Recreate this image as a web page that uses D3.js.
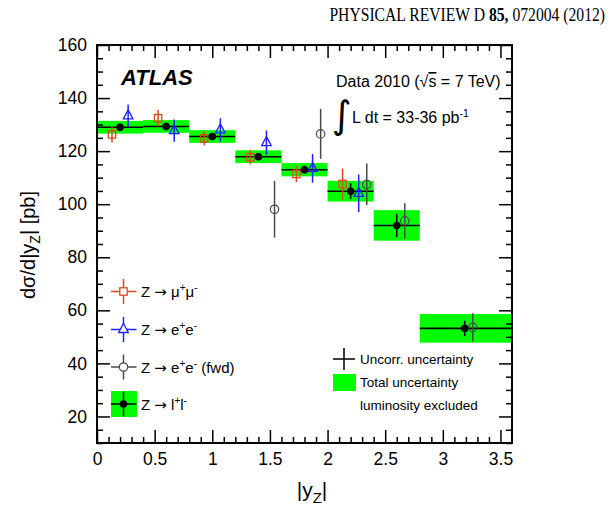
<!DOCTYPE html>
<html><head><meta charset="utf-8">
<script src="https://cdn.jsdelivr.net/npm/d3@7/dist/d3.min.js"></script>
<style>
body{margin:0;background:#fff;}
svg{display:block;}
text{font-family:"Liberation Sans",Arial,Helvetica,sans-serif;fill:#000;}
</style></head><body>
<svg id="c" width="613" height="512"></svg>
<script>
// ---- data ----
const binLow  = [0, 0.4, 0.8, 1.2, 1.6, 2.0, 2.4, 2.8];
const binHigh = [0.4, 0.8, 1.2, 1.6, 2.0, 2.4, 2.8, 3.6];
const combX   = [0.2, 0.6, 1.0, 1.4, 1.8, 2.2, 2.6, 3.19];
const combVal = [129.0, 129.3, 125.5, 117.9, 113.0, 104.9, 92.0, 53.2];
const combTot = [2.4, 2.4, 2.4, 2.4, 2.5, 3.9, 5.75, 5.4];
const combUnc = [1.4, 1.4, 1.3, 1.3, 1.5, 3.0, 4.4, 2.9];

const muX   = [0.13, 0.53, 0.93, 1.33, 1.73, 2.13];
const muVal = [126.3, 132.4, 124.8, 117.7, 111.4, 107.6];
const muErr = [3.0, 3.1, 2.7, 2.7, 3.1, 5.8];

const eX   = [0.27, 0.67, 1.07, 1.47, 1.87, 2.27];
const eVal = [133.3, 127.7, 128.0, 123.2, 113.5, 104.1];
const eErr = [4.3, 4.2, 4.4, 4.6, 5.4, 7.1];

const fX   = [1.54, 1.94, 2.34, 2.67, 3.26];
const fVal = [98.1, 126.5, 107.5, 93.7, 53.6];
const fErr = [10.7, 9.4, 7.8, 6.7, 5.3];

const xMajor = [0, 0.5, 1, 1.5, 2, 2.5, 3, 3.5];
const xTickLabels = ["0", "0.5", "1", "1.5", "2", "2.5", "3", "3.5"];
const yMajor = [20, 40, 60, 80, 100, 120, 140, 160];
const yTickLabels = ["20", "40", "60", "80", "100", "120", "140", "160"];

// ---- setup ----
const svg = d3.select("#c");
const L = 97, R = 512, T = 45, B = 443;
const x = d3.scaleLinear().domain([0, 3.6]).range([L, R]);
const y = d3.scaleLinear().domain([10, 160]).range([B, T]);

const GREEN = "#00ff00", MU = "#dd4a1a", EL = "#1f1fff", FW = "#4a4a4a";

// title
svg.append("text").attr("transform", "translate(605,21) scale(0.87,1)").attr("text-anchor", "end")
  .style("font-family", "'Liberation Serif','Times New Roman',serif").style("font-size", "18px")
  .html('PHYSICAL REVIEW D <tspan font-weight="bold">85,</tspan> 072004 (2012)');

const plot = svg.append("g");

// green bands
plot.selectAll("rect.band").data(binLow).join("rect").attr("class", "band")
  .attr("x", (d, i) => x(binLow[i]))
  .attr("width", (d, i) => Math.min(x(binHigh[i]), R) - x(binLow[i]))
  .attr("y", (d, i) => y(combVal[i] + combTot[i]))
  .attr("height", (d, i) => y(combVal[i] - combTot[i]) - y(combVal[i] + combTot[i]))
  .attr("fill", GREEN);

// horizontal bin lines
plot.selectAll("line.hb").data(binLow).join("line")
  .attr("x1", (d, i) => x(binLow[i])).attr("x2", (d, i) => Math.min(x(binHigh[i]), R))
  .attr("y1", (d, i) => y(combVal[i])).attr("y2", (d, i) => y(combVal[i]))
  .attr("stroke", "#000").attr("stroke-width", 1.6);

// forward electrons
fX.forEach((xv, i) => {
  plot.append("line").attr("x1", x(xv)).attr("x2", x(xv))
    .attr("y1", y(fVal[i] + fErr[i])).attr("y2", y(fVal[i] - fErr[i]))
    .attr("stroke", FW).attr("stroke-width", 1.5);
  plot.append("circle").attr("cx", x(xv)).attr("cy", y(fVal[i])).attr("r", 4.2)
    .attr("fill", "#fff").attr("fill-opacity", 0).attr("stroke", FW).attr("stroke-width", 1.2);
});

// muons
muX.forEach((xv, i) => {
  const cx = x(xv), cy = y(muVal[i]);
  plot.append("line").attr("x1", cx).attr("x2", cx)
    .attr("y1", y(muVal[i] + muErr[i])).attr("y2", y(muVal[i] - muErr[i]))
    .attr("stroke", MU).attr("stroke-width", 1.5);
  plot.append("rect").attr("x", cx - 3.7).attr("y", cy - 3.7).attr("width", 7.4).attr("height", 7.4)
    .attr("fill", "none").attr("stroke", MU).attr("stroke-width", 1.3);
});

// electrons
eX.forEach((xv, i) => {
  const cx = x(xv), cy = y(eVal[i]);
  plot.append("line").attr("x1", cx).attr("x2", cx)
    .attr("y1", y(eVal[i] + eErr[i])).attr("y2", y(eVal[i] - eErr[i]))
    .attr("stroke", EL).attr("stroke-width", 1.5);
  plot.append("path").attr("d", `M${cx},${cy - 6} L${cx + 4.8},${cy + 3} L${cx - 4.8},${cy + 3} Z`)
    .attr("fill", "none").attr("stroke", EL).attr("stroke-width", 1.3);
});

// combined points
combX.forEach((xv, i) => {
  const cx = x(xv), cy = y(combVal[i]);
  plot.append("line").attr("x1", cx).attr("x2", cx)
    .attr("y1", y(combVal[i] + combUnc[i])).attr("y2", y(combVal[i] - combUnc[i]))
    .attr("stroke", "#000").attr("stroke-width", 1.6);
  plot.append("circle").attr("cx", cx).attr("cy", cy).attr("r", 3.8).attr("fill", "#000");
});

// ---- axes ----
const xMinor = d3.range(0, 36).map(d => d / 10).filter(d => Math.abs(d * 2 - Math.round(d * 2)) > 1e-6);
const yMinor = d3.range(10, 161, 5).filter(d => d % 20 !== 0);

function axisG(axis, tx, ty) {
  const g = svg.append("g").attr("transform", `translate(${tx},${ty})`).call(axis);
  g.select(".domain").remove();
  g.selectAll("line").attr("stroke", "#000").attr("stroke-width", 1.5);
  g.selectAll("text").style("font-family", "'Liberation Sans',Arial,sans-serif").style("font-size", "17.5px").attr("fill", "#000");
  return g;
}
// bottom
axisG(d3.axisBottom(x).tickValues(xMajor).tickFormat((d, i) => xTickLabels[i]).tickSize(-13).tickPadding(10), 0, B);
axisG(d3.axisBottom(x).tickValues(xMinor).tickFormat("").tickSize(-6), 0, B);
// top
axisG(d3.axisTop(x).tickValues(xMajor).tickFormat("").tickSize(-13), 0, T);
axisG(d3.axisTop(x).tickValues(xMinor).tickFormat("").tickSize(-6), 0, T);
// left
axisG(d3.axisLeft(y).tickValues(yMajor).tickFormat((d, i) => yTickLabels[i]).tickSize(-13).tickPadding(10), L, 0);
axisG(d3.axisLeft(y).tickValues(yMinor).tickFormat("").tickSize(-6), L, 0);
// right
axisG(d3.axisRight(y).tickValues(yMajor).tickFormat("").tickSize(-13), R, 0);
axisG(d3.axisRight(y).tickValues(yMinor).tickFormat("").tickSize(-6), R, 0);

svg.append("rect").attr("x", L).attr("y", T).attr("width", R - L).attr("height", B - T)
  .attr("fill", "none").attr("stroke", "#000").attr("stroke-width", 2);

// axis titles
svg.append("text").attr("x", 312).attr("y", 497).attr("text-anchor", "middle").style("font-size", "21px")
  .html('|y<tspan font-size="15px" dy="6">Z</tspan><tspan dy="-6">|</tspan>');
svg.append("text").attr("transform", "translate(35,245) rotate(-90)").attr("text-anchor", "middle").style("font-size", "20px")
  .html('dσ/d|y<tspan font-size="14px" dy="5">Z</tspan><tspan dy="-5">| [pb]</tspan>');

// ATLAS
svg.append("text").attr("x", 121).attr("y", 85).style("font-size", "22px").style("font-weight", "bold").style("font-style", "italic").text("ATLAS");

// Data label
svg.append("text").attr("x", 336).attr("y", 87).style("font-size", "16px")
  .html('Data 2010 (√<tspan text-decoration="overline">s</tspan> = 7 TeV)');
svg.append("text").attr("x", 332).attr("y", 128).style("font-size", "38px").style("font-family", "'DejaVu Sans',sans-serif").text("∫");
svg.append("text").attr("x", 352).attr("y", 123).style("font-size", "16px")
  .html('L dt = 33-36 pb<tspan font-size="10.5px" dy="-6">-1</tspan>');

// ---- left legend ----
const lx = 123.5;
const legY = [291.5, 329.5, 367, 404];
svg.append("rect").attr("x", 111).attr("y", 391).attr("width", 26).attr("height", 26).attr("fill", GREEN);
const legCols = [MU, EL, FW, "#000"];
legY.forEach((ly, i) => {
  svg.append("line").attr("x1", 111).attr("x2", 136.5).attr("y1", ly).attr("y2", ly).attr("stroke", legCols[i]).attr("stroke-width", 1.5);
  svg.append("line").attr("x1", lx).attr("x2", lx).attr("y1", ly - 12.5).attr("y2", ly + 12.5).attr("stroke", legCols[i]).attr("stroke-width", 1.5);
});
svg.append("rect").attr("x", lx - 3.7).attr("y", legY[0] - 3.7).attr("width", 7.4).attr("height", 7.4).attr("fill", "#fff").attr("stroke", MU).attr("stroke-width", 1.3);
svg.append("path").attr("d", `M${lx},${legY[1] - 6} L${lx + 4.8},${legY[1] + 3} L${lx - 4.8},${legY[1] + 3} Z`).attr("fill", "#fff").attr("stroke", EL).attr("stroke-width", 1.3);
svg.append("circle").attr("cx", lx).attr("cy", legY[2]).attr("r", 4.2).attr("fill", "#fff").attr("stroke", FW).attr("stroke-width", 1.2);
svg.append("circle").attr("cx", lx).attr("cy", legY[3]).attr("r", 3.8).attr("fill", "#000");

const ARW = '<tspan font-family="DejaVu Sans">→</tspan>';
const legText = [
  `Z ${ARW} μ<tspan font-size="10px" dy="-6">+</tspan><tspan dy="6">μ</tspan><tspan font-size="10px" dy="-6">-</tspan>`,
  `Z ${ARW} e<tspan font-size="10px" dy="-6">+</tspan><tspan dy="6">e</tspan><tspan font-size="10px" dy="-6">-</tspan>`,
  `Z ${ARW} e<tspan font-size="10px" dy="-6">+</tspan><tspan dy="6">e</tspan><tspan font-size="10px" dy="-6">-</tspan><tspan dy="6"> (fwd)</tspan>`,
  `Z ${ARW} l<tspan font-size="10px" dy="-6">+</tspan><tspan dy="6">l</tspan><tspan font-size="10px" dy="-6">-</tspan>`
];
legY.forEach((ly, i) => {
  svg.append("text").attr("x", 141).attr("y", ly + 5.5).style("font-size", "15px").html(legText[i]);
});

// ---- right legend ----
svg.append("line").attr("x1", 333).attr("x2", 355).attr("y1", 359).attr("y2", 359).attr("stroke", "#000").attr("stroke-width", 1.5);
svg.append("line").attr("x1", 344).attr("x2", 344).attr("y1", 348).attr("y2", 370).attr("stroke", "#000").attr("stroke-width", 1.5);
svg.append("rect").attr("x", 333).attr("y", 374).attr("width", 23).attr("height", 17).attr("fill", GREEN);
svg.append("text").attr("x", 360).attr("y", 364).style("font-size", "13.5px").text("Uncorr. uncertainty");
svg.append("text").attr("x", 360).attr("y", 387).style("font-size", "13.5px").text("Total uncertainty");
svg.append("text").attr("x", 360).attr("y", 410).style("font-size", "13.5px").text("luminosity excluded");
</script>
</body></html>
